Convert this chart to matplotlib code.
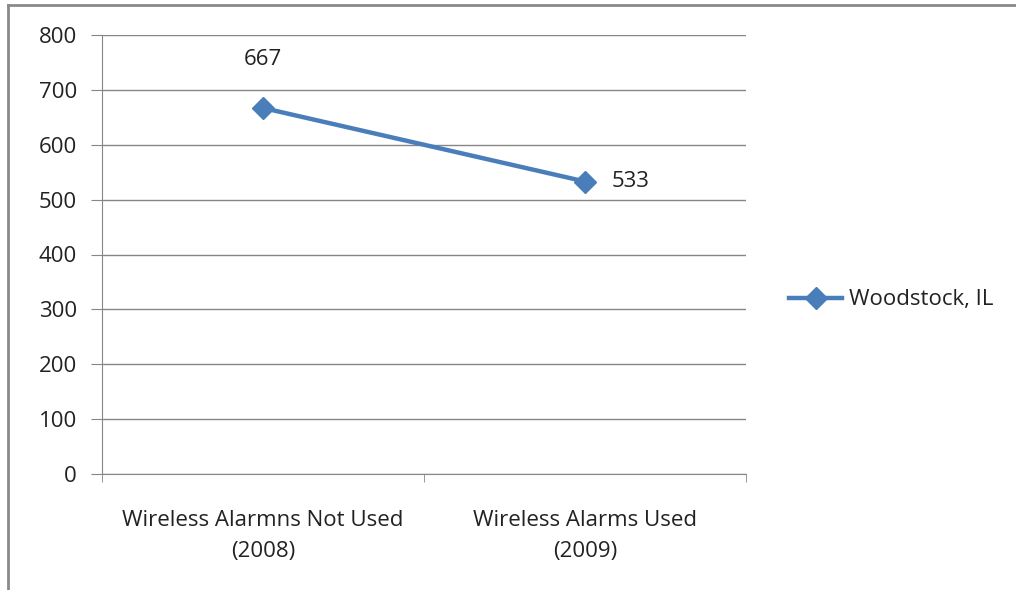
import matplotlib.pyplot as plt
from matplotlib.lines import Line2D

categories = ["Wireless Alarmns Not Used\n(2008)", "Wireless Alarms Used\n(2009)"]
values = [667, 533]
series_name = "Woodstock, IL"
yticks = [0, 100, 200, 300, 400, 500, 600, 700, 800]

plt.rcParams['font.family'] = ['Open Sans', 'DejaVu Sans']
blue = '#4A7EBB'
gray = '#868686'
fs = 16

fig = plt.figure(figsize=(10.16, 5.9), dpi=100)
ax = fig.add_axes([102/1016, 1-474/590, (746-102)/1016, (474-35)/590])

x = list(range(len(values)))
ax.plot(x, values, color=blue, lw=3.2, marker='D', ms=11, label=series_name)

ax.set_xlim(-0.5, len(values) - 0.5)
ax.set_ylim(0, 800)
ax.set_yticks(yticks)
ax.set_xticks(x)
ax.set_xticklabels(categories, fontsize=fs, color='#222222', linespacing=1.6)
ax.set_xticks([i - 0.5 for i in range(len(values) + 1)], minor=True)
ax.tick_params(axis='x', which='major', length=0, pad=26)
ax.tick_params(axis='x', which='minor', length=6, color=gray, direction='out')
ax.tick_params(axis='y', length=8, color=gray, direction='out', labelsize=fs,
               labelcolor='#222222', pad=10)
ax.grid(axis='y', color=gray, lw=1)
ax.set_axisbelow(True)
for s in ['top', 'right']:
    ax.spines[s].set_visible(False)
for s in ['left', 'bottom']:
    ax.spines[s].set_color(gray)

ax.annotate(str(values[0]), (x[0], values[0]), xytext=(0, 35), textcoords='offset points',
            ha='center', va='center', fontsize=fs, color='#222222')
ax.annotate(str(values[1]), (x[1], values[1]), xytext=(19, 0), textcoords='offset points',
            ha='left', va='center', fontsize=fs, color='#222222')

ax.legend(loc='center left', bbox_to_anchor=(778/1016, 1-300/590), bbox_transform=fig.transFigure,
          frameon=False, fontsize=fs, handlelength=2.4, handletextpad=0.3,
          labelcolor='#222222', borderpad=0)

# chart border (left and top only visible)
fig.add_artist(Line2D([8/1016, 8/1016], [0, 1-5/590], transform=fig.transFigure, color='#8a8a8a', lw=2))
fig.add_artist(Line2D([8/1016, 1], [1-5/590, 1-5/590], transform=fig.transFigure, color='#8a8a8a', lw=2))

fig.savefig('out.png', dpi=100)
